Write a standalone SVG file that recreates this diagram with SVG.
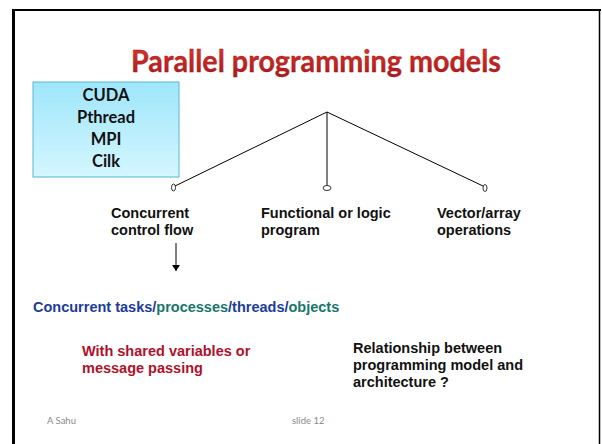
<svg xmlns="http://www.w3.org/2000/svg" width="602" height="444" viewBox="0 0 602 444">
<defs>
<linearGradient id="boxg" x1="0" y1="0" x2="0" y2="1">
<stop offset="0" stop-color="#9EE6FA"/>
<stop offset="1" stop-color="#D4F6FF"/>
</linearGradient>
<linearGradient id="titleg" x1="0" y1="0" x2="0" y2="1">
<stop offset="0" stop-color="#E03A2E"/>
<stop offset="1" stop-color="#A8161B"/>
</linearGradient>
<marker id="arr" markerWidth="8" markerHeight="8" refX="6" refY="4" orient="auto" markerUnits="userSpaceOnUse" viewBox="0 0 8 8">
<path d="M0,0 L6,4 L0,8 Z" fill="#000"/>
</marker>
<style>
.lbl{font-family:"Liberation Sans",Arial,sans-serif;font-weight:bold;font-size:14.5px;fill:#111}
.box{font-family:"Lato","Liberation Sans",sans-serif;font-weight:bold;font-size:16.5px;fill:#111}
.foot{font-family:"Lato","Liberation Sans",sans-serif;font-size:9.5px;fill:#8a8a8a}
.ln{stroke:#000;stroke-width:1;fill:none}
.dot{stroke:#000;stroke-width:0.8;fill:#fff}
</style>
</defs>
<rect x="0" y="0" width="602" height="444" fill="#fff"/>
<g id="frame">
<line x1="12" y1="10" x2="601" y2="10" stroke="#000" stroke-width="2"/>
<line x1="13.5" y1="9" x2="13.5" y2="444" stroke="#000" stroke-width="3"/>
<line x1="599.5" y1="9" x2="599.5" y2="444" stroke="#000" stroke-width="1.5"/>
</g>
<g id="title">
<text x="316" y="72" text-anchor="middle" font-family="Lato,'Liberation Sans',sans-serif" font-weight="bold" font-size="31" fill="url(#titleg)" stroke="#9a1010" stroke-width="0.3" textLength="370" lengthAdjust="spacingAndGlyphs">Parallel programming models</text>
</g>
<g id="languages">
<rect x="33" y="82" width="146" height="95" fill="url(#boxg)" stroke="#5BB6D4" stroke-width="1"/>
<text class="box" x="106" y="101" text-anchor="middle">CUDA</text>
<text class="box" x="106" y="123" text-anchor="middle">Pthread</text>
<text class="box" x="106" y="145" text-anchor="middle">MPI</text>
<text class="box" x="106" y="167" text-anchor="middle">Cilk</text>
</g>
<g id="connectors">
<line class="ln" x1="327" y1="112" x2="175" y2="186"/>
<line class="ln" x1="327" y1="112" x2="327" y2="185"/>
<line class="ln" x1="327" y1="112" x2="483" y2="186"/>
<line class="ln" x1="176" y1="243" x2="176" y2="271" marker-end="url(#arr)"/>
</g>
<g id="node-concurrent">
<ellipse class="dot" cx="173.5" cy="187.5" rx="2" ry="3.5"/>
<text class="lbl" x="111" y="218">Concurrent</text>
<text class="lbl" x="111" y="235">control flow</text>
</g>
<g id="node-functional">
<ellipse class="dot" cx="327" cy="188" rx="4" ry="2.5"/>
<text class="lbl" x="261" y="218">Functional or logic</text>
<text class="lbl" x="261" y="235">program</text>
</g>
<g id="node-vector">
<ellipse class="dot" cx="485" cy="188" rx="2" ry="3.5"/>
<text class="lbl" x="437" y="218">Vector/array</text>
<text class="lbl" x="437" y="235">operations</text>
</g>
<g id="tasks">
<text class="lbl" x="33" y="312"><tspan fill="#1B3C9C">Concurrent tasks/</tspan><tspan fill="#17766A">processes</tspan><tspan fill="#1B3C9C">/threads/</tspan><tspan fill="#17766A">objects</tspan></text>
</g>
<g id="shared">
<text class="lbl" x="82" y="356" style="fill:#B0102A">With shared variables or</text>
<text class="lbl" x="82" y="373" style="fill:#B0102A">message passing</text>
</g>
<g id="relationship">
<text class="lbl" x="353" y="353">Relationship between</text>
<text class="lbl" x="353" y="370">programming model and</text>
<text class="lbl" x="353" y="387">architecture ?</text>
</g>
<g id="footer">
<text class="foot" x="47" y="424">A Sahu</text>
<text class="foot" x="292" y="424">slide 12</text>
</g>
</svg>
